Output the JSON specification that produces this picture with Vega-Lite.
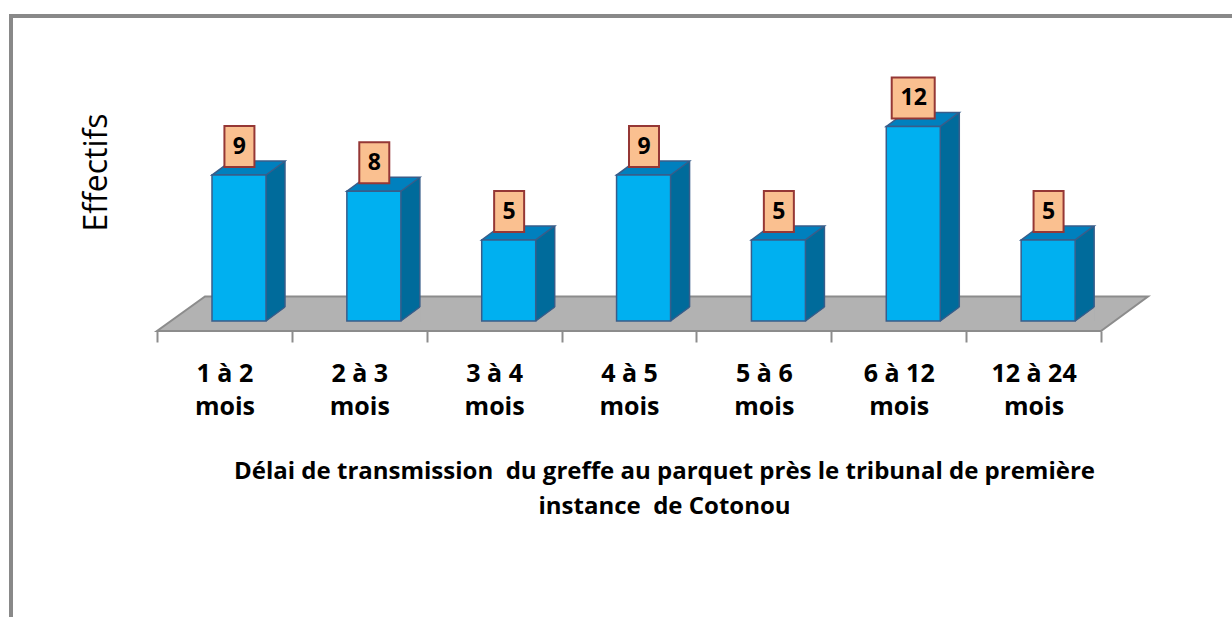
{
  "$schema": "https://vega.github.io/schema/vega-lite/v6.json",
  "width": 1221,
  "height": 601,
  "autosize": "none",
  "padding": {"left": 11, "top": 16, "right": 0, "bottom": 0},
  "config": {
    "font": "Open Sans",
    "view": {"stroke": "#898989", "strokeWidth": 4, "strokeDash": [1221, 1822, 601], "strokeCap": "square"}
  },
  "data": {
    "values": [
      {"cat": "1 à 2 mois", "v": 9},
      {"cat": "2 à 3 mois", "v": 8},
      {"cat": "3 à 4 mois", "v": 5},
      {"cat": "4 à 5 mois", "v": 9},
      {"cat": "5 à 6 mois", "v": 5},
      {"cat": "6 à 12 mois", "v": 12},
      {"cat": "12 à 24 mois", "v": 5}
    ]
  },
  "encoding": {
    "x": {
      "field": "cat", "type": "nominal", "sort": null,
      "scale": {"domain": ["1 à 2 mois", "2 à 3 mois", "3 à 4 mois", "4 à 5 mois", "5 à 6 mois", "6 à 12 mois", "12 à 24 mois"], "range": [146, 1090], "paddingInner": 0, "paddingOuter": 0},
      "axis": {
        "orient": "bottom", "offset": -286, "domain": false, "grid": false,
        "tickBand": "extent", "tickSize": 11, "tickColor": "#8c8c8c", "tickWidth": 2,
        "labelAngle": 0,
        "labelExpr": "indexof(datum.label || '', ' mois') > 0 ? [replace(datum.label, ' mois', ''), 'mois'] : ''",
        "labelFont": "Open Sans", "labelFontSize": 25, "labelFontWeight": "bold", "labelColor": "#000000",
        "labelBaseline": "top", "labelPadding": 19, "labelLineHeight": 33, "labelOverlap": false,
        "title": ["Délai de transmission\u00a0 du greffe au parquet près le tribunal de première", "instance\u00a0 de Cotonou"],
        "titleFont": "Open Sans", "titleFontSize": 24, "titleFontWeight": "bold", "titleColor": "#000000",
        "titleBaseline": "top", "titleLineHeight": 35, "titleAlign": "center",
        "titleX": 653, "titleY": 128
      }
    },
    "y": {
      "field": "v", "type": "quantitative",
      "scale": {"domain": [0, 12], "range": [305, 110.4], "nice": false, "zero": false},
      "axis": {
        "title": "Effectifs", "labels": false, "ticks": false, "domain": false, "grid": false,
        "titleFont": "Open Sans", "titleFontSize": 32, "titleFontWeight": "normal", "titleColor": "#000000",
        "titleAngle": -90, "titleBaseline": "middle", "titleAlign": "center",
        "titleX": 85, "titleY": 156
      }
    }
  },
  "layer": [
    {
      "transform": [{"filter": "datum.cat === '4 à 5 mois'"}],
      "mark": {"type": "point", "shape": "M-472,10L472,10L519,-24.5L-424,-24.5Z", "size": 4, "filled": true, "fill": "#b2b2b2", "stroke": "#8c8c8c", "strokeWidth": 2, "opacity": 1},
      "encoding": {"y": {"datum": 0, "type": "quantitative"}}
    },
    {
      "mark": {"type": "bar", "width": 19, "xOffset": 51.07, "yOffset": -14, "fill": "#006b9b", "strokeWidth": 0},
      "encoding": {"y2": {"datum": 0}}
    },
    {
      "mark": {"type": "point", "shape": "M41.3,0.6L61.3,0.6L61.3,-14.3Z", "size": 4, "filled": true, "fill": "#b2b2b2", "strokeWidth": 0, "opacity": 1},
      "encoding": {"y": {"datum": 0, "type": "quantitative"}}
    },
    {
      "mark": {"type": "rule", "xOffset": 60.57, "yOffset": -14, "y2Offset": -14, "stroke": "#385d8a", "strokeWidth": 1.5},
      "encoding": {"y2": {"datum": 0}}
    },
    {
      "mark": {"type": "point", "shape": "M41.57,0L60.57,-14", "size": 4, "filled": false, "fill": null, "stroke": "#385d8a", "strokeWidth": 1.5, "opacity": 1},
      "encoding": {"y": {"datum": 0, "type": "quantitative"}}
    },
    {
      "mark": {"type": "point", "shape": "M-12.43,0L41.57,0L60.57,-14L6.57,-14Z", "size": 4, "filled": true, "fill": "#0080be", "stroke": "#385d8a", "strokeWidth": 1.5, "opacity": 1}
    },
    {
      "mark": {"type": "bar", "width": 54, "xOffset": 14.57, "fill": "#00b0f0", "stroke": "#385d8a", "strokeWidth": 1.5},
      "encoding": {"y2": {"datum": 0}}
    },
    {
      "mark": {"type": "point", "size": 4, "filled": true, "fill": "#fac090", "stroke": "#953735", "strokeWidth": 2, "opacity": 1},
      "encoding": {
        "shape": {"condition": {"test": "datum.v >= 10", "value": "M-7,-8L36,-8L36,-49L-7,-49Z"}, "value": "M0,-8L30,-8L30,-49L0,-49Z"}
      }
    },
    {
      "mark": {"type": "text", "dx": 15, "dy": -28, "align": "center", "baseline": "middle", "font": "Open Sans", "fontSize": 23, "fontWeight": "bold", "color": "#000000"},
      "encoding": {"text": {"field": "v", "type": "quantitative"}}
    }
  ]
}
